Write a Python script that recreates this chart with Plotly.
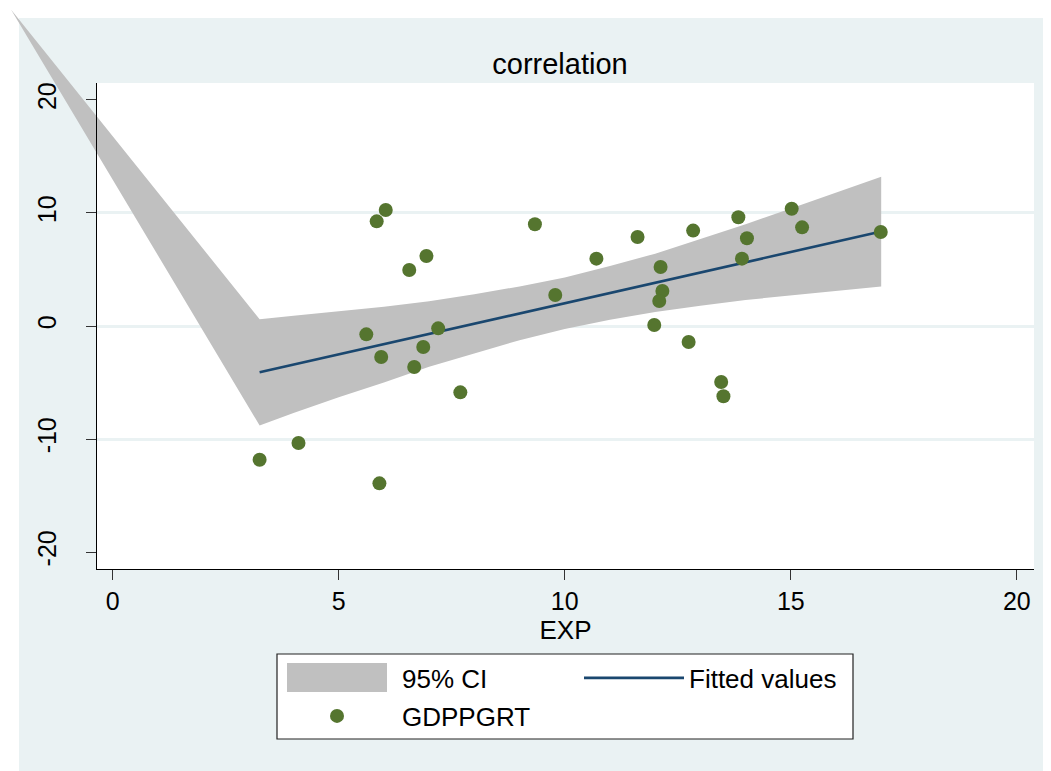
import plotly.graph_objects as go

# ---------------- data ----------------
exp_x = [6.04, 5.84, 6.94, 6.56, 5.61, 7.20, 6.87, 5.94, 6.67, 7.69, 4.11, 3.25, 5.90,
         9.34, 10.70, 9.79, 11.61, 12.84, 12.12, 12.16, 12.09, 11.98, 12.74,
         13.84, 14.03, 13.92, 15.02, 15.25, 16.99, 13.46, 13.51]
gdp_y = [10.27, 9.26, 6.19, 4.96, -0.74, -0.21, -1.86, -2.74, -3.63, -5.87, -10.35, -11.83, -13.92,
         9.00, 5.96, 2.74, 7.88, 8.44, 5.22, 3.10, 2.21, 0.09, -1.42,
         9.62, 7.76, 5.96, 10.38, 8.73, 8.32, -4.96, -6.22]

fit_x = [3.25, 17.0]
fit_y = [-4.10, 8.36]

ci_x = [-2.25, 3.25, 4, 5, 6, 7, 8, 9, 10, 11, 12, 13, 14, 15, 16, 17]
ci_upper = [28.0, 0.6, 0.9, 1.3, 1.7, 2.2, 2.8, 3.5, 4.3, 5.3, 6.4, 7.7, 9.0, 10.4, 11.8, 13.2]
ci_lower = [28.0, -8.8, -7.7, -6.3, -5.0, -3.6, -2.4, -1.25, -0.26, 0.56, 1.24, 1.8, 2.3, 2.7, 3.1, 3.5]

x_ticks = [0, 5, 10, 15, 20]
y_ticks = [-20, -10, 0, 10, 20]
y_tick_labels = ["-20", "-10", "0", "10", "20"]
grid_ticks = [-10, 0, 10]

# ---------------- layout geometry ----------------
W, H = 1051, 771
OFF = 8  # page body margin


def fx(px):
    return (px - OFF) / W


def fy(py):
    return 1 - (py - OFF) / H


BG = "#EAF2F3"
GRAY = "#C0C0C0"
NAVY = "#1A476F"
GREEN = "#55752F"
FONT = "Liberation Sans, Arial, sans-serif"

XR = [-0.347, 20.38]
YR = [-21.5, 21.5]
XD = [fx(97), fx(1034)]
YD = [fy(569), fy(83)]

# full-figure axes with the same scale as the plot axes (so the CI band can
# run outside the plot region, as in the original)
sx = (XD[1] - XD[0]) / (XR[1] - XR[0])
sy = (YD[1] - YD[0]) / (YR[1] - YR[0])
X2R = [XR[0] - XD[0] / sx, XR[1] + (1 - XD[1]) / sx]
Y2R = [YR[0] - YD[0] / sy, YR[1] + (1 - YD[1]) / sy]

fig = go.Figure()

# legend entry for the CI band (its swatch is the grey key box below)
fig.add_trace(go.Scatter(x=[None], y=[None], mode="lines", name="95% CI",
                         line=dict(color="rgba(0,0,0,0)", width=0), legendgroup="ci",
                         xaxis="x", yaxis="y", hoverinfo="skip"))

band_x = ci_x + ci_x[::-1]
band_y = ci_upper + ci_lower[::-1]
fig.add_trace(go.Scatter(x=band_x, y=band_y, fill="toself", fillcolor=GRAY,
                         mode="lines", line=dict(width=0, color=GRAY),
                         showlegend=False, legendgroup="ci",
                         xaxis="x2", yaxis="y2", hoverinfo="skip"))

fig.add_trace(go.Scatter(x=fit_x, y=fit_y, mode="lines", name="Fitted values",
                         line=dict(color=NAVY, width=2.6),
                         xaxis="x2", yaxis="y2"))

fig.add_trace(go.Scatter(x=exp_x, y=gdp_y, mode="markers", name="GDPPGRT",
                         marker=dict(color=GREEN, size=14, line=dict(width=0)),
                         xaxis="x2", yaxis="y2", legend="legend2"))

# anchor trace for the display axes
fig.add_trace(go.Scatter(x=[None], y=[None], mode="markers", showlegend=False,
                         xaxis="x3", yaxis="y3", hoverinfo="skip"))

axis_font = dict(family=FONT, size=25, color="black")

fig.update_layout(
    width=W, height=H, autosize=False,
    margin=dict(l=0, r=0, t=0, b=0, pad=0),
    paper_bgcolor="white", plot_bgcolor="rgba(0,0,0,0)",
    font=dict(family=FONT, color="black"),
    hovermode=False,
    title=dict(text="correlation", x=fx(560), xanchor="center",
               y=fy(64), yanchor="middle", yref="paper",
               font=dict(family=FONT, size=29, color="black")),
    # grid subplot
    xaxis=dict(domain=XD, range=XR, showgrid=False, zeroline=False,
               showticklabels=False, ticks="", showline=False, anchor="y"),
    yaxis=dict(domain=YD, range=YR, tickvals=grid_ticks, showgrid=True,
               gridcolor=BG, gridwidth=2.5, zeroline=False,
               showticklabels=False, ticks="", showline=False, anchor="x"),
    # full-figure data subplot
    xaxis2=dict(domain=[0, 1], range=X2R, visible=False, anchor="y2"),
    yaxis2=dict(domain=[0, 1], range=Y2R, visible=False, anchor="x2"),
    # display axes
    xaxis3=dict(domain=XD, range=XR, tickvals=x_ticks, showgrid=False,
                zeroline=False, showline=True, linecolor="black", linewidth=1.3,
                ticks="outside", ticklen=10, tickwidth=1.3, tickcolor="#333",
                tickfont=axis_font, anchor="y3",
                title=dict(text="EXP", font=dict(family=FONT, size=26, color="black"),
                           standoff=0)),
    yaxis3=dict(domain=YD, range=YR, tickvals=y_ticks, ticktext=y_tick_labels,
                showgrid=False,
                zeroline=False, showline=True, linecolor="black", linewidth=1.3,
                ticks="outside", ticklen=10, tickwidth=1.3, tickcolor="#333",
                tickfont=axis_font, tickangle=-90, anchor="x3",
                ticklabelstandoff=20),
    legend=dict(orientation="h", x=fx(292), xanchor="left",
                y=fy(678), yanchor="middle",
                entrywidth=172, entrywidthmode="pixels", itemwidth=100,
                font=dict(family=FONT, size=26, color="black"),
                bgcolor="rgba(0,0,0,0)", borderwidth=0, tracegroupgap=0),
    legend2=dict(orientation="h", x=fx(272), xanchor="left",
                 y=fy(716), yanchor="middle", itemwidth=120,
                 font=dict(family=FONT, size=26, color="black"),
                 bgcolor="rgba(0,0,0,0)", borderwidth=0),
    shapes=[
        dict(type="rect", xref="paper", yref="paper", layer="below",
             x0=fx(19), x1=1.01, y0=-0.02, y1=fy(18),
             fillcolor=BG, line=dict(width=0)),
        dict(type="rect", xref="paper", yref="paper", layer="below",
             x0=XD[0], x1=XD[1], y0=YD[0], y1=YD[1],
             fillcolor="white", line=dict(width=0)),
        # legend frame
        dict(type="rect", xref="paper", yref="paper", layer="below",
             x0=fx(277), x1=fx(853), y0=fy(739), y1=fy(654),
             fillcolor="white", line=dict(width=1.2, color="#222")),
        # legend key for the 95% CI area
        dict(type="rect", xref="paper", yref="paper", layer="below",
             x0=fx(287), x1=fx(387), y0=fy(692), y1=fy(663),
             fillcolor=GRAY, line=dict(width=0)),
    ],
)

fig.write_html("out.html")
